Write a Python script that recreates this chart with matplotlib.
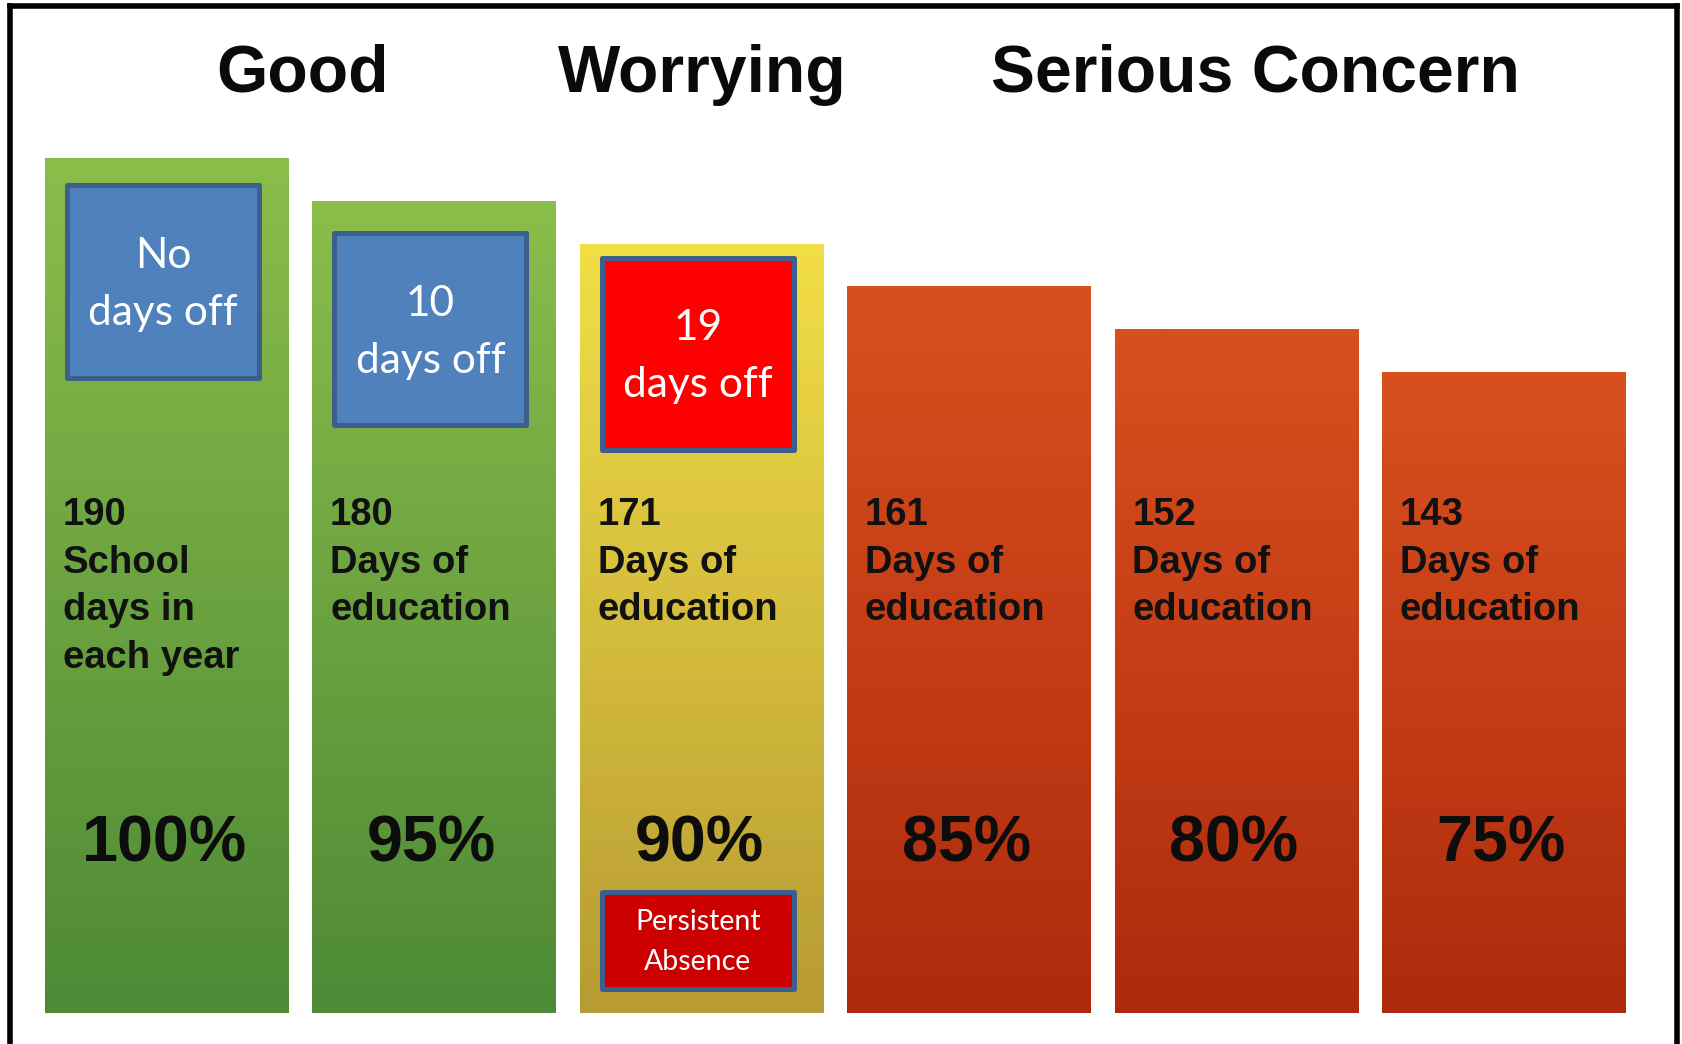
import numpy as np
import matplotlib.pyplot as plt
from matplotlib.patches import Rectangle
from matplotlib.colors import LinearSegmentedColormap
from matplotlib.lines import Line2D

# --- data ---
headers = ["Good", "Worrying", "Serious Concern"]
percent = [100, 95, 90, 85, 80, 75]
days = [190, 180, 171, 161, 152, 143]
day_words = [["School", "days in", "each year"]] + [["Days of", "education"]] * 5
days_off = ["No", "10", "19"]
absence_label = ["Persistent", "Absence"]

# --- layout (pixels of the 1683x1044 canvas) ---
W, H = 1683, 1044
PX_PER_UNIT = 8.542      # pixels per percent point
BASE_PX = 1012.5         # bar bottom, from top
X0_PX = 167.0            # centre of first bar
PITCH_PX = 267.4         # distance between bar centres
BAR_W = 0.912

bar_colors = [("#8BBD4B", "#4E8A36")] * 2 + [("#F2DE46", "#B79B33")] + [("#D9501F", "#AE2A0C")] * 3
header_x = [0.508, 2.003, 4.07]
box_top_px = [183, 231, 256]
box_colors = ["#4F81BD", "#4F81BD", "#FF0000"]
SANS_BOLD = "Liberation Sans"
BOX_FONT = ["Lato", "DejaVu Sans"]


def dy(py):
    """pixel row (from top) -> data y"""
    return (BASE_PX - py) / PX_PER_UNIT


def dx(px):
    return px / PITCH_PX


fig = plt.figure(figsize=(W / 100, H / 100), dpi=100)
ax = fig.add_axes([0, 0, 1, 1])
ax.set_axis_off()

x = np.arange(len(percent))
bars = ax.bar(x, percent, width=BAR_W, color="none", edgecolor="none")

# gradient fill inside each bar
grad = np.linspace(0, 1, 256).reshape(-1, 1)
for rect, (top_c, bot_c), xi, p in zip(bars, bar_colors, x, percent):
    cmap = LinearSegmentedColormap.from_list("g", [bot_c, top_c])
    im = ax.imshow(grad, extent=[xi - BAR_W / 2, xi + BAR_W / 2, 0, p],
                   origin="lower", aspect="auto", cmap=cmap, zorder=1)
    im.set_clip_path(rect)

# header words
for hx, h in zip(header_x, headers):
    ax.text(hx, dy(92), h, ha="center", va="baseline", fontsize=47.5,
            fontweight="bold", family=SANS_BOLD, color="#0a0a0a")


def box(xc, top_px, bottom_px, face, lines, size, cap_px, pitch_px):
    bw = dx(197)
    inset_x = dx(2.5)
    inset_y = 2.5 / PX_PER_UNIT
    r = Rectangle((xc - bw / 2 + inset_x, dy(bottom_px) + inset_y),
                  bw - 2 * inset_x, dy(top_px) - dy(bottom_px) - 2 * inset_y,
                  facecolor=face, edgecolor="#3D5F8E", lw=3.6,
                  joinstyle="round", zorder=3)
    ax.add_patch(r)
    centre = (top_px + bottom_px) / 2
    b1 = centre - (pitch_px - cap_px) / 2
    for j, line in enumerate(lines):
        ax.text(xc, dy(b1 + j * pitch_px), line, ha="center", va="baseline",
                fontsize=size, color="white", family=BOX_FONT, zorder=4)


# "days off" boxes
for i, (label, top, face) in enumerate(zip(days_off, box_top_px, box_colors)):
    box(x[i] - 0.015, top, top + 197, face, [label, "days off"], 30.5, 29, 57)

# persistent absence box
box(x[2] - 0.015, 889, 991, "#CC0000", absence_label, 20.5, 20, 39)

# black descriptive text
for i in range(len(percent)):
    lines = [str(days[i])] + day_words[i]
    left = x[i] - BAR_W / 2 + 0.066
    for j, line in enumerate(lines):
        ax.text(left, dy(525 + 47.7 * j), line, ha="left", va="baseline",
                fontsize=27.5, fontweight="bold", family=SANS_BOLD,
                color="#111111", zorder=4)

# percentages
for xi, p in zip(x, percent):
    ax.text(xi - 0.01, dy(862), f"{p}%", ha="center", va="baseline",
            fontsize=46.5, fontweight="bold", family=SANS_BOLD,
            color="#0d0d0d", zorder=4)

ax.set_xlim(-X0_PX / PITCH_PX, (W - X0_PX) / PITCH_PX)
ax.set_ylim(-(H - BASE_PX) / PX_PER_UNIT, BASE_PX / PX_PER_UNIT)

# black frame around the picture (bottom edge is cut off)
lw = 4.0
fig.add_artist(Line2D([10 / W, 10 / W], [0, 1 - 6 / H], color="black", lw=lw,
                      solid_capstyle="projecting"))
fig.add_artist(Line2D([10 / W, 1677 / W], [1 - 6 / H, 1 - 6 / H], color="black", lw=lw,
                      solid_capstyle="projecting"))
fig.add_artist(Line2D([1677 / W, 1677 / W], [0, 1 - 6 / H], color="black", lw=lw,
                      solid_capstyle="projecting"))

fig.savefig("out.png", dpi=100, facecolor="white")
